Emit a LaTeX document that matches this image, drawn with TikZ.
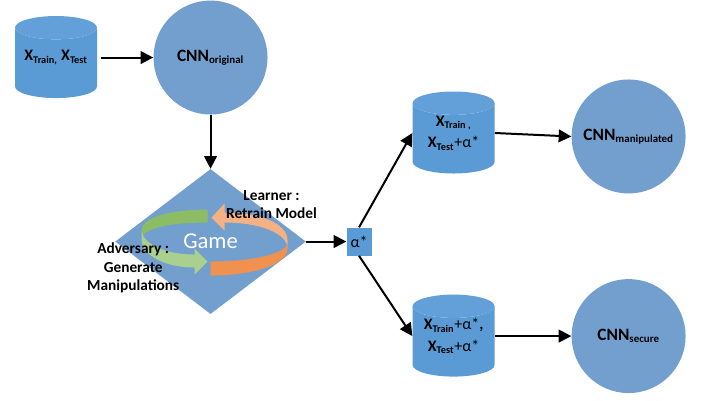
\documentclass[tikz,border=0pt]{standalone}
\usepackage{fontspec}
\setmainfont{Carlito}
\usepackage{tikz}
\usetikzlibrary{shapes.geometric, arrows.meta, positioning, calc}

\definecolor{cylblue}{HTML}{5B9BD5}
\definecolor{cyltop}{HTML}{639FD8}
\definecolor{roundblue}{HTML}{739FCF}
\definecolor{swdarkgreen}{HTML}{8CBD65}
\definecolor{swlightgreen}{HTML}{A9D08E}
\definecolor{swdarkorange}{HTML}{F0914F}
\definecolor{swlightorange}{HTML}{F4B183}

\newcommand{\subtxt}[1]{\textsubscript{\fontsize{8.2pt}{8.2pt}\selectfont #1}}
\newcommand{\dbsub}[1]{\textsubscript{\fontsize{7.7pt}{8pt}\selectfont #1}}
\newcommand{\plusalpha}{\textnormal{+α*}}

\begin{document}
\begin{tikzpicture}[
    x=0.75pt, y=-0.75pt,
    db/.style={cylinder, shape border rotate=90, aspect=0.38, cylinder uses custom fill, cylinder body fill=cylblue, cylinder end fill=cyltop, draw=none, minimum width=61.5pt, minimum height=61.5pt, inner sep=0pt, text width=46pt},
    dbtext/.style={minimum width=61.5pt, inner sep=0pt, align=center, font=\fontsize{12pt}{16pt}\selectfont\bfseries},
    cnn/.style={circle, fill=roundblue, minimum size=85.5pt, inner sep=0pt, font=\fontsize{13pt}{15pt}\selectfont\bfseries},
    label/.style={align=center, inner sep=0pt, font=\fontsize{11.5pt}{13.9pt}\selectfont\bfseries},
    arrow/.style={-{Stealth[length=9.5pt,width=9.5pt,inset=0pt]}, line width=1.5pt}
]
\useasboundingbox (0,0) rectangle (706,400);

% Input data and first model
\node[db] (trainbody) at (56,63) {\strut};
\node[dbtext] (trainset) at ([yshift=4.1pt]trainbody.center) {X\dbsub{Train,} X\dbsub{Test}};
\node[cnn, right of=trainset, node distance=115.9pt] (cnnorig) {CNN\subtxt{original}};

% Game
\node[diamond, fill=roundblue, aspect=1.32, minimum width=143pt, minimum height=108.75pt, inner sep=0pt, text=white, font=\fontsize{17pt}{17pt}\selectfont, below of=cnnorig, node distance=138pt] (game) {Game};

% Swoosh round the game
\begin{scope}[shift={(game.center)}]
\fill[swdarkgreen] (-3,-32) .. controls (-40,-32) and (-69,-24) .. (-69,-11) -- (-68,-6) .. controls (-60,-15) and (-35,-19) .. (-3,-19) -- cycle;
\fill[swlightgreen] (-69,-10) .. controls (-66,3) and (-45,13) .. (-16,13) -- (-16,7) -- (-3,20) -- (-16,33) -- (-16,26) .. controls (-45,26) and (-69,14) .. (-69,-3) -- cycle;
\fill[swlightorange] (1,-24) -- (14,-38) -- (14,-29) .. controls (50,-29) and (77,-18) .. (77,-1) -- (77,7) .. controls (77,-8) and (50,-19) .. (14,-19) -- (14,-11) -- cycle;
\fill[swdarkorange] (0,20) .. controls (40,20) and (74,13) .. (77,2) -- (77,7) .. controls (77,24) and (40,34) .. (0,34) -- cycle;
\end{scope}

% Labels of the game
\node[label, right of=game, node distance=45.75pt, yshift=27.75pt] (learner) {Learner :\\Retrain Model};
\node[label, left of=game, node distance=58pt, yshift=-20pt] (adversary) {Adversary :\\Generate\\Manipulations};

% Result of the game
\node[rectangle, fill=cylblue, minimum width=18.75pt, minimum height=21pt, inner sep=0pt, font=\fontsize{12pt}{12pt}\selectfont, right of=game, node distance=111.4pt] (alphastar) {α*};

% Upper branch
\node[db, right of=alphastar, node distance=70.9pt, yshift=77.3pt] (manipbody) {\strut};
\node[dbtext] (dbmanip) at ([yshift=4.1pt]manipbody.center) {X\dbsub{Train ,}\\X\dbsub{Test}\plusalpha};
\node[cnn, right of=dbmanip, node distance=131.25pt, yshift=-2.6pt] (cnnmanip) {CNN\subtxt{manipulated}};

% Lower branch
\node[db, right of=alphastar, node distance=70.9pt, yshift=-75pt] (securebody) {\strut};
\node[dbtext] (dbsecure) at ([yshift=4.1pt]securebody.center) {X\dbsub{Train}\plusalpha,\\X\dbsub{Test}\plusalpha};
\node[cnn, right of=dbsecure, node distance=131.25pt] (cnnsecure) {CNN\subtxt{secure}};

% Arrows
\draw[arrow, shorten <=3pt] (trainset) -- (cnnorig);
\draw[arrow] (cnnorig) -- (game);
\draw[arrow] (game.east) -- (alphastar.west);
\draw[arrow] (alphastar.north) -- (dbmanip.west);
\draw[arrow] (alphastar.south) -- (dbsecure.west);
\draw[arrow] (dbmanip.east) -- (cnnmanip.west);
\draw[arrow] (dbsecure.east) -- (cnnsecure.west);

\end{tikzpicture}
\end{document}
